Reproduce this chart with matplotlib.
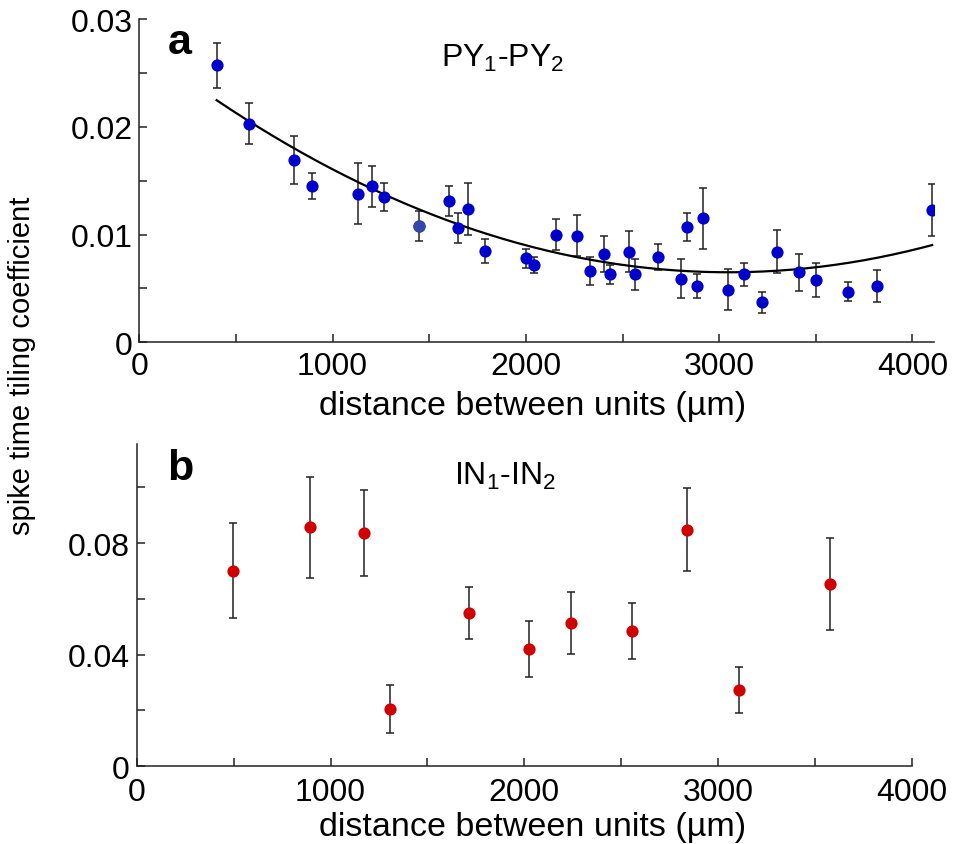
import numpy as np
import matplotlib.pyplot as plt
from matplotlib.ticker import MultipleLocator, FuncFormatter

plt.rcParams['font.family'] = ['Liberation Sans', 'DejaVu Sans']
plt.rcParams['mathtext.default'] = 'regular'

# panel a: PY1-PY2 pairs
py_dist = [400, 566, 800, 893, 1133, 1202, 1266, 1445, 1600, 1650,
           1699, 1790, 2001, 2041, 2156, 2264, 2333, 2402, 2435, 2532,
           2563, 2685, 2801, 2832, 2887, 2915, 3047, 3127, 3223, 3301,
           3413, 3502, 3665, 3816, 4102]
py_sttc = [0.0257, 0.0203, 0.0169, 0.0145, 0.0138, 0.0145, 0.0135, 0.0108, 0.0131, 0.0106,
           0.0124, 0.0085, 0.0078, 0.0072, 0.0100, 0.0099, 0.0066, 0.0082, 0.0063, 0.0084,
           0.0063, 0.0079, 0.0059, 0.0107, 0.0052, 0.0115, 0.0049, 0.0063, 0.0037, 0.0084,
           0.0065, 0.0058, 0.0047, 0.0052, 0.0123]
py_err = [0.0021, 0.0019, 0.0022, 0.0012, 0.0028, 0.0019, 0.0013, 0.0014, 0.0014, 0.0014,
          0.0024, 0.0011, 0.0009, 0.00075, 0.0014, 0.0019, 0.0013, 0.0017, 0.0009, 0.0019,
          0.0014, 0.0012, 0.0018, 0.0013, 0.0011, 0.0028, 0.0019, 0.0011, 0.0010, 0.0020,
          0.0017, 0.0016, 0.0009, 0.0015, 0.0024]
odd = 7  # the one point drawn in a duller blue

# panel b: IN1-IN2 pairs
in_dist = [499, 896, 1175, 1307, 1715, 2023, 2241, 2556, 2841, 3108, 3579]
in_sttc = [0.0701, 0.0856, 0.0837, 0.0205, 0.0549, 0.0419, 0.0514, 0.0485, 0.0848, 0.0273, 0.0653]
in_err = [0.017, 0.018, 0.0154, 0.0087, 0.0093, 0.010, 0.011, 0.0101, 0.0148, 0.0082, 0.0166]

fs = 23
fig = plt.figure(figsize=(9.55, 8.45), dpi=100)
ax1 = fig.add_axes([0.1459, 0.5937, 0.8324, 0.3826])
ax2 = fig.add_axes([0.1431, 0.0920, 0.8119, 0.3814])

fmt = FuncFormatter(lambda v, p: '%g' % round(v, 4))


def style(ax, ymajor, yminor, xpad):
    for s in ['top', 'right']:
        ax.spines[s].set_visible(False)
    for s in ['left', 'bottom']:
        ax.spines[s].set_linewidth(1.1)
        ax.spines[s].set_color('#222222')
    ax.xaxis.set_major_locator(MultipleLocator(1000))
    ax.xaxis.set_minor_locator(MultipleLocator(500))
    ax.yaxis.set_major_locator(MultipleLocator(ymajor))
    ax.yaxis.set_minor_locator(MultipleLocator(yminor))
    ax.yaxis.set_major_formatter(fmt)
    ax.tick_params(which='both', direction='in', length=6, width=1.1, color='#222222',
                   labelsize=fs)
    ax.tick_params(axis='x', pad=xpad)
    ax.tick_params(axis='y', pad=5)


# panel a
ax1.errorbar(py_dist, py_sttc, yerr=py_err, fmt='none', ecolor='#222222',
             elinewidth=1.1, capsize=3, capthick=1.1, zorder=2)
coef = np.polyfit(py_dist, py_sttc, 2)
xs = np.linspace(min(py_dist), max(py_dist), 200)
ax1.plot(xs, np.polyval(coef, xs), color='black', lw=1.6, zorder=3)
ax1.plot(py_dist, py_sttc, 'o', color='#0000cc', ms=8.8, mec='none', zorder=4)
ax1.plot(py_dist[odd], py_sttc[odd], 'o', color='#3548a8', ms=8.8, mec='none', zorder=5)
ax1.set_xlim(0, 4113)
ax1.set_ylim(0, 0.03)
style(ax1, 0.01, 0.005, 6)

# panel b
ax2.errorbar(in_dist, in_sttc, yerr=in_err, fmt='none', ecolor='#222222',
             elinewidth=1.1, capsize=3, capthick=1.1, zorder=2)
ax2.plot(in_dist, in_sttc, 'o', color='#d00000', ms=8.8, mec='none', zorder=4)
ax2.set_xlim(0, 4000)
ax2.set_ylim(0, 0.1155)
style(ax2, 0.04, 0.02, 8)

W, H = 955, 845
fig.text(22 / W, 1 - 366 / H, 'spike time tiling coefficient', rotation=90,
         ha='center', va='center', fontsize=21)
fig.text(533 / W, 1 - 415 / H, 'distance between units (µm)', ha='center',
         va='baseline', fontsize=24.5)
fig.text(533 / W, 1 - 836 / H, 'distance between units (µm)', ha='center',
         va='baseline', fontsize=24.5)
fig.text(180 / W, 1 - 54 / H, 'a', ha='center', va='baseline', fontsize=31,
         fontweight='bold')
fig.text(180 / W, 1 - 480 / H, 'b', ha='center', va='baseline', fontsize=31,
         fontweight='bold')
fig.text(503 / W, 1 - 66.7 / H, 'PY$_1$-PY$_2$', ha='center', va='baseline',
         fontsize=fs)
fig.text(505 / W, 1 - 485 / H, 'IN$_1$-IN$_2$', ha='center', va='baseline',
         fontsize=fs)

fig.savefig('out.png', dpi=100)
